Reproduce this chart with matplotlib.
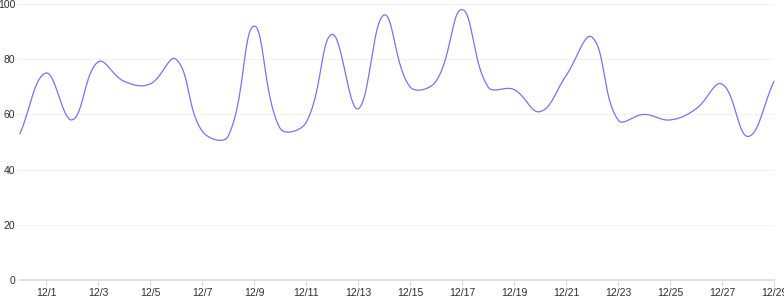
import numpy as np
import matplotlib
matplotlib.use("Agg")
import matplotlib.pyplot as plt

# daily values, 11/30 .. 12/29
dates = ["11/30"] + [f"12/{d}" for d in range(1, 30)]
values = [53, 75, 58, 79, 72, 71, 80, 54, 52, 92,
          55, 57, 89, 62, 96, 70, 72, 98, 70, 69,
          61, 74, 88, 58, 60, 58, 62, 71, 52, 72]
y_ticks = [0, 20, 40, 60, 80, 100]

LINE = "#7474f6"
GRID = "#f2f2f4"
AXIS = "#dcdce2"
TEXT = "#2e2e34"

fig = plt.figure(figsize=(7.84, 3.0), dpi=100)
ax = fig.add_axes([20 / 784, 20 / 300, 754 / 784, 276 / 300])

x = np.arange(len(values), dtype=float)
y = np.array(values, dtype=float)


def smooth(xs, ys, tension=0.4, sx=26.0, sy=2.76, n=24):
    # chart.js style bezier spline, computed in pixel-like space
    px, py = xs * sx, ys * sy
    cps = []
    for i in range(len(px)):
        p0 = (px[max(i - 1, 0)], py[max(i - 1, 0)])
        p1 = (px[i], py[i])
        p2 = (px[min(i + 1, len(px) - 1)], py[min(i + 1, len(py) - 1)])
        d01 = np.hypot(p1[0] - p0[0], p1[1] - p0[1])
        d12 = np.hypot(p2[0] - p1[0], p2[1] - p1[1])
        s01 = d01 / (d01 + d12) if d01 + d12 else 0
        s12 = d12 / (d01 + d12) if d01 + d12 else 0
        fa, fb = tension * s01, tension * s12
        prev = (p1[0] - fa * (p2[0] - p0[0]), p1[1] - fa * (p2[1] - p0[1]))
        nxt = (p1[0] + fb * (p2[0] - p0[0]), p1[1] + fb * (p2[1] - p0[1]))
        cps.append((prev, nxt))
    out_x, out_y = [px[0]], [py[0]]
    t = np.linspace(0, 1, n)[1:]
    for i in range(len(px) - 1):
        a = np.array([px[i], py[i]])
        b = np.array(cps[i][1])
        c = np.array(cps[i + 1][0])
        d = np.array([px[i + 1], py[i + 1]])
        pts = ((1 - t)[:, None] ** 3 * a + 3 * ((1 - t) ** 2 * t)[:, None] * b
               + 3 * ((1 - t) * t ** 2)[:, None] * c + (t ** 3)[:, None] * d)
        out_x.extend(pts[:, 0])
        out_y.extend(pts[:, 1])
    return np.array(out_x) / sx, np.array(out_y) / sy


sx_, sy_ = smooth(x, y)
ax.plot(sx_, sy_, color=LINE, lw=0.9, solid_capstyle="round", clip_on=False)

ax.set_xlim(0, len(values) - 1)
ax.set_ylim(0, 100)

ax.set_yticks(y_ticks)
ax.set_yticklabels([str(v) for v in y_ticks])
for v in y_ticks[1:]:
    ax.axhline(v, color=GRID, lw=0.8, zorder=0)

xt = list(range(1, len(values), 2))
ax.set_xticks(xt)
ax.set_xticklabels([dates[i] for i in xt])

for s in ["top", "right", "left"]:
    ax.spines[s].set_visible(False)
ax.spines["bottom"].set_color(AXIS)
ax.spines["bottom"].set_linewidth(1.2)

ax.tick_params(axis="x", length=4, width=0.8, color=AXIS, pad=2,
               labelsize=7.5, labelcolor=TEXT)
ax.tick_params(axis="y", length=3, width=0.8, color=GRID, pad=0.5,
               labelsize=7.5, labelcolor=TEXT)
for lab in ax.get_xticklabels() + ax.get_yticklabels():
    lab.set_fontfamily("Liberation Sans")

fig.savefig("out.png", dpi=100)
